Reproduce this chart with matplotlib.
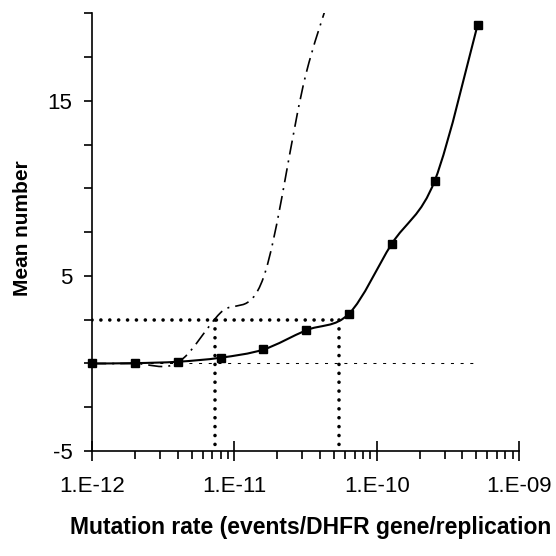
"""mean number vs mutation rate - log x axis, excel style smoothed lines"""

import numpy as np
import matplotlib
matplotlib.use('Agg')
import matplotlib.pyplot as plt
from matplotlib.path import Path
from matplotlib.patches import PathPatch
from matplotlib.ticker import FixedLocator, LogLocator, NullFormatter

# data
rate = [1e-12, 2e-12, 4e-12, 8e-12, 1.6e-11, 3.2e-11, 6.4e-11, 1.28e-10, 2.56e-10, 5.12e-10]
meanNum = [0.0, 0.02, 0.1, 0.33, 0.8, 1.9, 2.85, 6.85, 10.45, 19.35]       # squares, solid line
rateModel = [1e-12, 2e-12, 4e-12, 8e-12, 1.6e-11, 3.2e-11, 6.4e-11]
meanModel = [0.0, 0.0, 0.05, 2.9, 4.9, 16.6, 24.0]                          # dash-dot line
cutLevel = 2.5                         # dotted horizontal
cutRates = [7.3e-12, 5.4e-11]          # dotted verticals
baseRange = [1e-12, 5.12e-10]          # thin dashed line at zero
xTicks = [1e-12, 1e-11, 1e-10, 1e-9]
xTickLabels = ['1.E-12', '1.E-11', '1.E-10', '1.E-09']
yTicks = [-5, -2.5, 0, 2.5, 5, 7.5, 10, 12.5, 15, 17.5, 20]
yTickLabels = ['-5', '', '', '', '5', '', '', '', '15', '', '']


def smoothPath(xs, ys):
    """catmull-rom bezier through the points (in log x / linear y), like excel smoothed line"""
    u = np.log10(xs)
    v = np.asarray(ys, dtype=float)
    n = len(u)
    verts = [(u[0], v[0])]
    codes = [Path.MOVETO]
    for i in range(n - 1):
        i0 = max(i - 1, 0)
        i3 = min(i + 2, n - 1)
        c1 = (u[i] + (u[i + 1] - u[i0]) / 6, v[i] + (v[i + 1] - v[i0]) / 6)
        c2 = (u[i + 1] - (u[i3] - u[i]) / 6, v[i + 1] - (v[i3] - v[i]) / 6)
        verts += [c1, c2, (u[i + 1], v[i + 1])]
        codes += [Path.CURVE4] * 3
    verts = np.array(verts)
    verts[:, 0] = 10 ** verts[:, 0]    # back to data coords, log transform is applied per vertex
    return Path(verts, codes)


plt.rcParams['font.family'] = ['Liberation Sans', 'DejaVu Sans']

fig = plt.figure(figsize=(5.56, 5.56), dpi=100)
ax = fig.add_axes([0.1655, 0.1888, 0.7680, 0.7872])
ax.set_xscale('log')
ax.set_xlim(1e-12, 1e-9)
ax.set_ylim(-5, 20)

# reference lines
ax.plot(baseRange, [0, 0], color='black', lw=0.75, linestyle=(0, (2.9, 6.4)))
ax.plot([rate[0], cutRates[1]], [cutLevel, cutLevel], color='black', lw=2.6,
        linestyle=(0, (0.01, 2.45)), dash_capstyle='round')
for r in cutRates:
    ax.plot([r, r], [cutLevel, -5], color='black', lw=2.6,
            linestyle=(0, (0.01, 2.45)), dash_capstyle='round', clip_on=False)

# model curve (dash-dot) and measured curve (solid + squares)
ax.add_patch(PathPatch(smoothPath(rateModel, meanModel), fill=False, edgecolor='black',
                       lw=1.2, linestyle=(0, (8.5, 3.6, 1.2, 3.6))))
ax.add_patch(PathPatch(smoothPath(rate, meanNum), fill=False, edgecolor='black', lw=1.5))
ax.plot(rate, meanNum, 's', color='black', ms=6.2, clip_on=False, zorder=5)

# axes styling
for side in ['top', 'right']:
    ax.spines[side].set_visible(False)
for side in ['left', 'bottom']:
    ax.spines[side].set_linewidth(1.2)

ax.xaxis.set_major_locator(FixedLocator(xTicks))
ax.set_xticklabels(xTickLabels)
ax.xaxis.set_minor_locator(LogLocator(base=10, subs=np.arange(2, 10)))
ax.xaxis.set_minor_formatter(NullFormatter())
ax.tick_params(axis='x', which='major', direction='inout', length=14, width=1.2, labelsize=16, pad=11)
ax.tick_params(axis='x', which='minor', direction='out', length=6, width=1.2)

ax.set_yticks(yTicks)
ax.set_yticklabels(yTickLabels)
ax.tick_params(axis='y', which='major', direction='out', length=6, width=1.2, labelsize=16, pad=8)

# the reference shows the label running off the right edge, closing bracket not visible
ax.set_xlabel('Mutation rate (events/DHFR gene/replication', fontsize=16.5, fontweight='bold')
ax.xaxis.set_label_coords(0.513, -0.1485)
ax.set_ylabel('Mean number', fontsize=15, fontweight='bold')
ax.yaxis.set_label_coords(-0.14, 0.509)

fig.savefig('out.png', dpi=100)
